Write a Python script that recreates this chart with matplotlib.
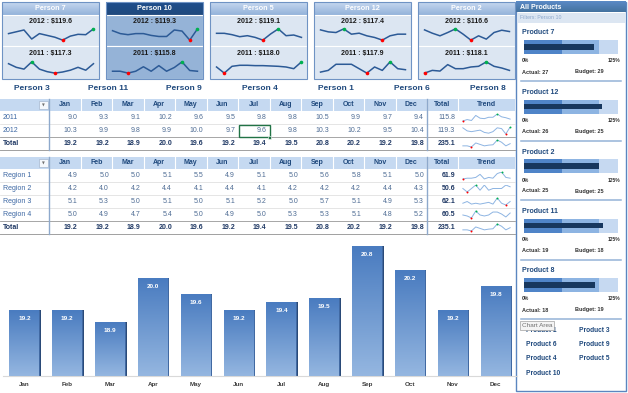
import matplotlib
matplotlib.use("Agg")
import matplotlib.pyplot as plt
import numpy as np
from matplotlib.patches import Rectangle
from matplotlib.colors import to_rgb

plt.rcParams['font.family'] = ['Liberation Sans', 'DejaVu Sans']

W, H = 628, 393

# ---- data ----
months = ['Jan', 'Feb', 'Mar', 'Apr', 'May', 'Jun', 'Jul', 'Aug', 'Sep', 'Oct', 'Nov', 'Dec']
sales_2011 = [9.0, 9.3, 9.1, 10.2, 9.6, 9.5, 9.8, 9.8, 10.5, 9.9, 9.7, 9.4]
sales_2012 = [10.3, 9.9, 9.8, 9.9, 10.0, 9.7, 9.6, 9.8, 10.3, 10.2, 9.5, 10.4]
month_total = [19.2, 19.2, 18.9, 20.0, 19.6, 19.2, 19.4, 19.5, 20.8, 20.2, 19.2, 19.8]
year_labels = ['2011', '2012', 'Total']
year_totals = [115.8, 119.3, 235.1]

regions = ['Region 1', 'Region 2', 'Region 3', 'Region 4', 'Total']
region_1 = [4.9, 5.0, 5.0, 5.1, 5.5, 4.9, 5.1, 5.0, 5.6, 5.8, 5.1, 5.0]
region_2 = [4.2, 4.0, 4.2, 4.4, 4.1, 4.4, 4.1, 4.2, 4.2, 4.2, 4.4, 4.3]
region_3 = [5.1, 5.3, 5.0, 5.1, 5.0, 5.1, 5.2, 5.0, 5.7, 5.1, 4.9, 5.3]
region_4 = [5.0, 4.9, 4.7, 5.4, 5.0, 4.9, 5.0, 5.3, 5.3, 5.1, 4.8, 5.2]
region_totals = [61.9, 50.6, 62.1, 60.5, 235.1]

card_people = ['Person 7', 'Person 10', 'Person 5', 'Person 12', 'Person 2']
card_2012 = [119.6, 119.3, 119.1, 117.4, 116.6]
card_2011 = [117.3, 115.8, 118.0, 117.9, 118.1]
spark_2012 = [
    [20, 25, 30, 5, 20, 15, 10, 2, 13, 18, 17, 33],
    [28, 20, 17, 20, 20, 15, 12, 12, 30, 27, 2, 33],
    [22, 22, 18, 12, 15, 10, 2, 20, 35, 15, 17, 10],
    [33, 27, 25, 36, 20, 23, 15, 10, 2, 15, 20, 20],
    [33, 23, 15, 25, 36, 20, 2, 15, 5, 25, 32, 28],
]
spark_2011 = [
    [30, 20, 15, 35, 15, 8, 4, 7, 12, 20, 12, 30],
    [10, 10, 5, 10, 22, 10, 25, 10, 20, 35, 12, 10],
    [20, 2, 22, 25, 25, 24, 24, 23, 22, 20, 15, 35],
    [5, 10, 28, 28, 28, 15, 2, 20, 10, 35, 15, 12],
    [2, 10, 8, 27, 15, 15, 20, 22, 35, 22, 17, 10],
]
selected = 'Person 10'
slicer_people = ['Person 3', 'Person 11', 'Person 9', 'Person 4', 'Person 1', 'Person 6', 'Person 8']

products = ['Product 7', 'Product 12', 'Product 2', 'Product 11', 'Product 8']
actual = [27, 26, 25, 19, 18]
budget = [29, 25, 25, 18, 19]
other_products = ['Product 1', 'Product 3', 'Product 6', 'Product 9', 'Product 4', 'Product 5', 'Product 10']

# ---- colours ----
NAVY = '#1F497D'
HEAD_FILL = '#C5D9F1'
VAL_C = '#4E6C94'
LBL_C = '#3C67A3'
TOT_C = '#1F3864'

fig = plt.figure(figsize=(6.28, 3.93), dpi=100)
fig.patch.set_facecolor('white')

bg = fig.add_axes([0, 0, 1, 1])
bg.axis('off')


def px_axes(x0, y0, x1, y1):
    a = fig.add_axes([x0 / W, 1 - y1 / H, (x1 - x0) / W, (y1 - y0) / H])
    a.axis('off')
    return a


def grad(ax, x0, x1, ybot, ytop, c_top, c_bot, z=1):
    t = np.linspace(0, 1, 40)[:, None]
    img = (np.array(to_rgb(c_top)) * (1 - t) + np.array(to_rgb(c_bot)) * t)[:, None, :]
    ax.imshow(img, extent=(x0, x1, ybot, ytop), aspect='auto', origin='upper',
              interpolation='bilinear', zorder=z)


def spark(ax, vals, color, lw, ms):
    x = np.arange(len(vals))
    ax.plot(x, vals, color=color, lw=lw, solid_joinstyle='round')
    i_min, i_max = int(np.argmin(vals)), int(np.argmax(vals))
    ax.plot(x[i_min], vals[i_min], 'o', color='#FF0000', ms=ms, mec='none', clip_on=False)
    ax.plot(x[i_max], vals[i_max], 'o', color='#00B050', ms=ms, mec='none', clip_on=False)
    pad = (max(vals) - min(vals)) * 0.08
    ax.set_ylim(min(vals) - pad, max(vals) + pad)
    ax.set_xlim(-0.2, len(vals) - 0.8)


# ---- top cards ----
for i, name in enumerate(card_people):
    x0 = 2 + i * 104
    x1 = x0 + 97
    sel = name == selected
    body = '#95B3D7' if sel else '#DCE6F2'
    if sel:
        grad(bg, x0, x1, 15, 2, '#1F4E8C', '#1F497D')
    else:
        grad(bg, x0, x1, 15, 2, '#C6D8EF', '#93B2DA')
    bg.add_patch(Rectangle((x0, 15), 97, 31, fc=body, ec='white', lw=0.8, zorder=2))
    bg.add_patch(Rectangle((x0, 46), 97, 33, fc=body, ec='white', lw=0.8, zorder=2))
    bg.add_patch(Rectangle((x0, 2), 97, 77, fc='none', ec='#6F93C4', lw=0.8, zorder=3))
    bg.text(x0 + 48.5, 8.5, name, color='white', fontsize=5.2, fontweight='bold',
            ha='center', va='center', zorder=4)
    bg.text(x0 + 48.5, 22, f'2012 : ${card_2012[i]:.1f}', color='#1A1A1A', fontsize=5,
            fontweight='bold', ha='center', va='center', zorder=4)
    bg.text(x0 + 48.5, 54, f'2011 : ${card_2011[i]:.1f}', color='#1A1A1A', fontsize=5,
            fontweight='bold', ha='center', va='center', zorder=4)
    spark(px_axes(x0 + 5, 28, x0 + 93, 41), spark_2012[i], '#2C5A96', 1.1, 2.6)
    spark(px_axes(x0 + 5, 61, x0 + 93, 74), spark_2011[i], '#2C5A96', 1.1, 2.6)

# slicer buttons
for i, name in enumerate(slicer_people):
    bg.text(32 + 76 * i, 88.5, name, color=NAVY, fontsize=6, fontweight='bold',
            ha='center', va='center')

# ---- tables ----
col_edges = [49 + 31.5 * k for k in range(13)]
TOT_X0, TOT_X1, TR_X1 = 427, 458, 515


def draw_table(top, labels, rows, totals, bold_total_col):
    head_b = top + 12
    bg.add_patch(Rectangle((0, top), TR_X1, 12, fc=HEAD_FILL, ec='none', zorder=1))
    for xe in col_edges + [TOT_X0, TOT_X1]:
        bg.plot([xe, xe], [top, head_b], color='white', lw=0.8, zorder=2)
    # dropdown button
    bg.add_patch(Rectangle((39, top + 2), 8.5, 8, fc='#F5F8FC', ec='#A6B8D0', lw=0.5, zorder=3))
    bg.text(43.3, top + 6.2, '▼', fontsize=2.6, color='#707070', ha='center', va='center',
            zorder=4, family='DejaVu Sans')
    for k, m in enumerate(months):
        bg.text((col_edges[k] + col_edges[k + 1]) / 2, top + 6, m, color=NAVY, fontsize=5,
                fontweight='bold', ha='center', va='center')
    bg.text((TOT_X0 + TOT_X1) / 2, top + 6, 'Total', color=NAVY, fontsize=5,
            fontweight='bold', ha='center', va='center')
    bg.text((TOT_X1 + TR_X1) / 2, top + 6, 'Trend', color=NAVY, fontsize=5,
            fontweight='bold', ha='center', va='center')
    n = len(labels)
    for r in range(n):
        y0 = head_b + 13 * r
        yc = y0 + 6.6
        last = r == n - 1
        lab_c = TOT_C if last else LBL_C
        val_c = TOT_C if last else VAL_C
        wt = 'bold' if last else 'normal'
        bg.text(3, yc, labels[r], color=lab_c, fontsize=5, fontweight=wt, ha='left', va='center')
        for k, v in enumerate(rows[r]):
            bg.text(col_edges[k + 1] - 3, yc, f'{v:.1f}', color=val_c, fontsize=5,
                    fontweight=wt, ha='right', va='center')
        tw = 'bold' if (last or bold_total_col) else 'normal'
        tc = TOT_C if (last or bold_total_col) else val_c
        bg.text(TOT_X1 - 3, yc, f'{totals[r]:.1f}', color=tc, fontsize=5, fontweight=tw,
                ha='right', va='center')
        if r < n - 2:
            bg.plot([0, TR_X1], [y0 + 13, y0 + 13], color='#DADADA', lw=0.5)
        elif r == n - 2:
            bg.plot([0, TR_X1], [y0 + 12.6, y0 + 12.6], color='#A0A0A0', lw=0.5)
            bg.plot([0, TR_X1], [y0 + 13.4, y0 + 13.4], color='#A0A0A0', lw=0.5)
        else:
            bg.plot([0, TR_X1], [y0 + 13, y0 + 13], color='#A0A0A0', lw=0.7)
        spark(px_axes(462, y0 + 2.5, 511, y0 + 10.5), rows[r], '#8DB4E2', 0.7, 1.4)
    bottom = head_b + 13 * n
    for xe in (49, TOT_X0):
        bg.plot([xe, xe], [top, bottom], color='#8EA9CC', lw=1.0, zorder=3)
    return head_b


t1 = draw_table(99, year_labels, [sales_2011, sales_2012, month_total], year_totals, False)
draw_table(157, regions, [region_1, region_2, region_3, region_4, month_total], region_totals, True)

# active cell (2012, Jul)
bg.add_patch(Rectangle((col_edges[6] + 0.5, t1 + 13.5), 31, 12.5, fc='none', ec='#217346', lw=1, zorder=5))
bg.add_patch(Rectangle((col_edges[7] - 1.5, t1 + 24.5), 3, 3, fc='#217346', ec='white', lw=0.4, zorder=6))

# ---- bar chart ----
bx = fig.add_axes([3 / W, 1 - 376 / H, 514 / W, 138 / H])
x = np.arange(len(months))
ymin, ymax = 17.55, 21.0
bx.bar(x + 0.035, month_total, width=0.7, bottom=0, color='#2A4A78', zorder=1)
bars = bx.bar(x, month_total, width=0.7, color='#6A95CC', edgecolor='#3B66A2', lw=0.4, zorder=2)
for b, v in zip(bars, month_total):
    grad(bx, b.get_x(), b.get_x() + b.get_width(), ymin, v, '#4A7CC0', '#94B6E0', z=3)
    bx.annotate(f'{v:.1f}', (b.get_x() + b.get_width() / 2, v), xytext=(0, -6),
                textcoords='offset points', ha='center', va='center', color='white',
                fontsize=4.6, fontweight='bold', zorder=4)
bx.set_xlim(-0.5, 11.5)
bx.set_ylim(ymin, ymax)
for s in ('top', 'right', 'left'):
    bx.spines[s].set_visible(False)
bx.spines['bottom'].set_color('#D9D9D9')
bx.set_yticks([])
bx.set_xticks(x)
bx.set_xticklabels(months, fontsize=4.5, fontweight='bold', color='#3A3A3A')
bx.tick_params(axis='x', length=0, pad=4.5)
bx.patch.set_alpha(0)

# ---- right panel ----
bg.add_patch(Rectangle((516, 2), 110, 389, fc='white', ec='#5B86C0', lw=1, zorder=1))
grad(bg, 516, 626, 12.5, 2, '#5A8AC6', '#44729F', z=2)
bg.text(520, 7.3, 'All Products', color='white', fontsize=5, fontweight='bold',
        ha='left', va='center', zorder=3)
bg.add_patch(Rectangle((516.5, 12.5), 109, 10, fc='#DCE6F2', ec='none', zorder=2))
bg.text(520, 17.5, 'Filters: Person 10', color='#8DA8CC', fontsize=3.8,
        ha='left', va='center', zorder=3)

for i, p in enumerate(products):
    ty = 33 + 59.5 * i
    bg.text(522, ty, p, color=NAVY, fontsize=5, fontweight='bold', ha='left', va='center', zorder=3)
    ba = px_axes(524, ty + 7, 618, ty + 21)
    ba.barh(0, 125, height=1, color='#C6D9F1')
    ba.barh(0, 100, height=1, color='#8DB4E2')
    ba.barh(0, 50, height=1, color='#4F84C8')
    ba.barh(0, actual[i] / budget[i] * 100, height=0.36, color='#17375E')
    ba.set_xlim(0, 125)
    ba.set_ylim(-0.5, 0.5)
    bg.text(522, ty + 28, '0%', fontsize=3.6, fontweight='bold', color='#333333',
            ha='left', va='center', zorder=3)
    bg.text(620, ty + 28, '125%', fontsize=3.6, fontweight='bold', color='#333333',
            ha='right', va='center', zorder=3)
    bg.text(522, ty + 39, f'Actual: {actual[i]}', fontsize=4, fontweight='bold', color='#333333',
            ha='left', va='center', zorder=3)
    bg.text(575, ty + 39, f'Budget: {budget[i]}', fontsize=4, fontweight='bold', color='#333333',
            ha='left', va='center', zorder=3)
    bg.plot([521, 621], [ty + 48, ty + 48], color='#95B3D7', lw=1.1, zorder=3)

for j, p in enumerate(other_products):
    px = 526 if j % 2 == 0 else 579
    py = 330 + 14.5 * (j // 2)
    bg.text(px, py, p, color=NAVY, fontsize=4.8, fontweight='bold', ha='left', va='center', zorder=3)

bg.text(522, 325.5, 'Chart Area', color='#707070', fontsize=4.6, ha='left', va='center', zorder=6,
        bbox=dict(boxstyle='square,pad=0.25', fc='#F4F4F4', ec='#A0A0A0', lw=0.5))

bg.set_xlim(0, W)
bg.set_ylim(H, 0)

fig.savefig('out.png', dpi=100)
